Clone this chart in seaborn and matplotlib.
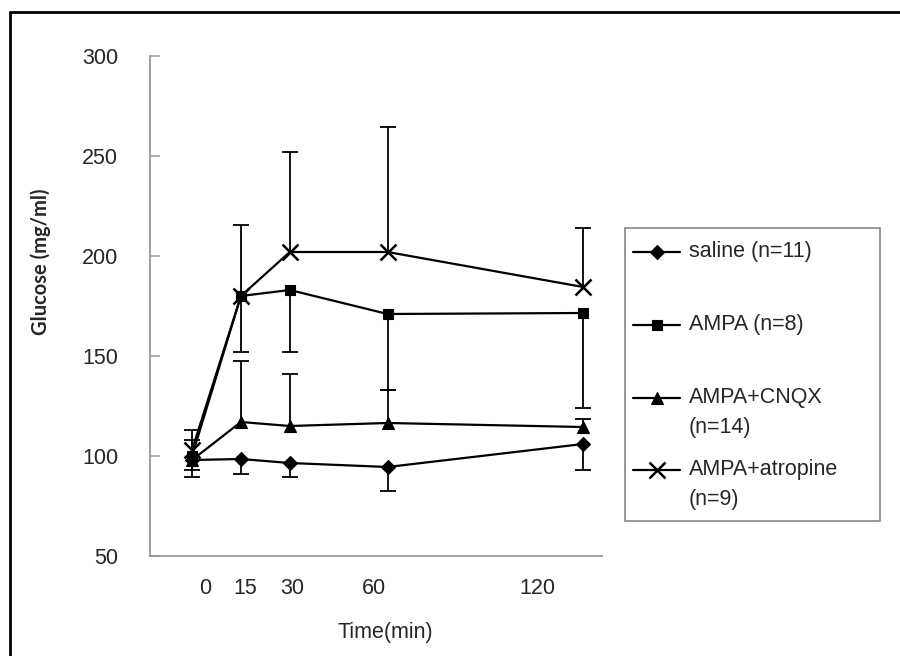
import numpy as np
import pandas as pd
import seaborn as sns
import matplotlib.pyplot as plt
from matplotlib.lines import Line2D
from matplotlib.patches import Rectangle

# datos
tiempos = [0, 15, 30, 60, 120]
grupos = ["saline (n=11)", "AMPA (n=8)", "AMPA+CNQX\n(n=14)", "AMPA+atropine\n(n=9)"]
saline = [98, 98.5, 96.5, 94.5, 106]
ampa = [100, 180, 183, 171, 171.5]
cnqx = [98, 117, 115, 116.5, 114.5]
atropina = [103, 180, 202, 202, 184.5]
# barras de error (solo un lado)
saline_err_abajo = [8.5, 7.5, 7, 12, 13]
ampa_err_abajo = [7, 28, 31, 38, 47.5]
cnqx_err_arriba = [10, 30.5, 26, 16.5, 4]
atropina_err_arriba = [10, 35.5, 50, 62.5, 29.5]
etiquetas_x = ["0", "15", "30", "60", "120"]

sns.set_style("white")
plt.rcParams["font.family"] = ["Liberation Sans", "DejaVu Sans"]
fs = 15.5

W, H = 900, 656
fig = plt.figure(figsize=(W / 100, H / 100), dpi=100)
ax = fig.add_axes([150 / W, 100 / H, 452 / W, 500 / H])

def fp(x, y):
    return x / W, 1 - y / H

series = [
    (saline, "D", 7, -np.array(saline_err_abajo)),
    (ampa, "s", 7, -np.array(ampa_err_abajo)),
    (cnqx, "^", 9, np.array(cnqx_err_arriba)),
    (atropina, "x", 11, np.array(atropina_err_arriba)),
]

for vals, mk, ms, err in series:
    df = pd.DataFrame({"tiempo": tiempos, "glucosa": vals})
    ends = np.array(vals) + err
    # barras de error de un solo lado
    ax.vlines(tiempos, vals, ends, color="black", lw=1.3, zorder=2)
    ax.plot(tiempos, ends, ls="none", marker="_", ms=11, mew=1.3, color="black", zorder=2)
    sns.lineplot(data=df, x="tiempo", y="glucosa", ax=ax, color="black", lw=1.6,
                 marker=mk, markersize=ms, markeredgewidth=1.8 if mk == "x" else 0.8,
                 markeredgecolor="black", zorder=3, legend=False)

ax.set_xlim(-12.9, 125.8)
ax.set_ylim(50, 300)
ax.set_yticks([50, 100, 150, 200, 250, 300])
# posicion de las etiquetas como en la figura original
ax.set_xticks([4, 16.3, 30.8, 55.7, 106])
ax.set_xticklabels(etiquetas_x)
ax.tick_params(axis="x", length=0, pad=16, labelsize=fs)
ax.tick_params(axis="y", direction="in", length=7, width=1.1, color="#999999",
               pad=23, labelsize=fs, left=True)
for s in ["top", "right"]:
    ax.spines[s].set_visible(False)
for s in ["left", "bottom"]:
    ax.spines[s].set_color("#999999")
    ax.spines[s].set_linewidth(1.3)

ax.set_xlabel("Time(min)", fontsize=fs)
ax.xaxis.set_label_coords((385 - 150) / 452, -(622 - 556) / 500)
ax.set_ylabel("Glucose (mg/ml)", fontsize=14.5, fontweight="bold", family=["Lato", "DejaVu Sans"])
ax.yaxis.set_label_coords((51 - 150) / 452, (556 - 262) / 500)

# leyenda manual
x0, y0 = fp(625, 521)
fig.add_artist(Rectangle((x0, y0), 255 / W, 293 / H, transform=fig.transFigure,
                         fill=False, edgecolor="#888888", lw=1.2))
filas = [252, 325, 398, 470]
for (vals, mk, ms, err), nombre, fy in zip(series, grupos, filas):
    lx0, ly = fp(633, fy)
    lx1, _ = fp(680, fy)
    fig.add_artist(Line2D([lx0, lx1], [ly, ly], color="black", lw=1.6, transform=fig.transFigure))
    mx, _ = fp(656.5, fy)
    fig.add_artist(Line2D([mx], [ly], color="black", marker=mk, markersize=ms,
                          markeredgewidth=1.8 if mk == "x" else 0.8, transform=fig.transFigure))
    for i, linea in enumerate(nombre.split("\n")):
        tx, ty = fp(689, fy + i * 30)
        fig.text(tx, ty, linea, va="center", ha="left", fontsize=fs)

# marco exterior
fig.add_artist(Line2D([10 / W, 1], [1 - 12 / H, 1 - 12 / H], color="black", lw=2, transform=fig.transFigure))
fig.add_artist(Line2D([10 / W, 10 / W], [0, 1 - 12 / H], color="black", lw=2, transform=fig.transFigure))

fig.savefig("out.png", dpi=100)
